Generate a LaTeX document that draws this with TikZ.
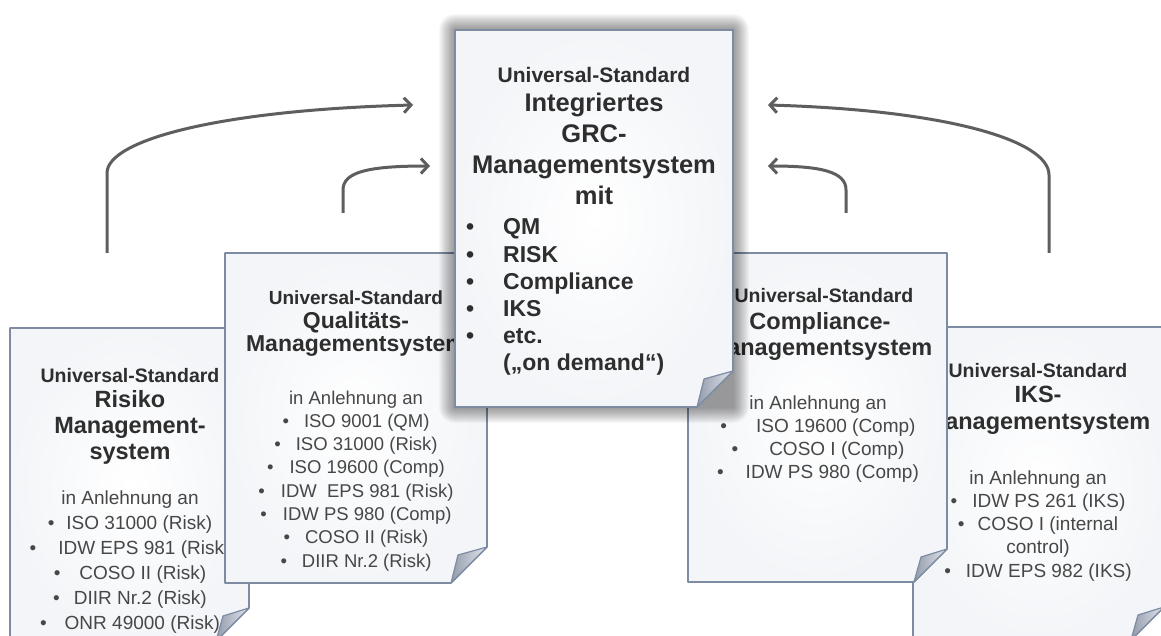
\documentclass[tikz,border=0pt]{standalone}
\usepackage{fontspec}
\setmainfont{Liberation Sans}
\usetikzlibrary{arrows.meta}

\definecolor{paperedge}{HTML}{7D8BA3}
\definecolor{paperflap}{HTML}{939CAC}
\definecolor{paperflaplight}{HTML}{E2E6EC}
\definecolor{papertint}{HTML}{F3F5F8}
\definecolor{arrowgray}{HTML}{5E5E5E}
\definecolor{inkdark}{HTML}{2E2E2E}
\definecolor{inkmid}{HTML}{474747}

% sheet of paper with a folded bottom-right corner: x1 y1 x2 y2 fold
\newcommand{\paperdoc}[5]{%
  \shade[inner color=white, outer color=papertint]
    (#1,#2) -- (#3,#2) -- (#3,#4-#5) -- (#3-#5,#4) -- (#1,#4) -- cycle;
  \draw[paperedge, line width=1.6pt, line join=round]
    (#1,#2) -- (#3,#2) -- (#3,#4-#5) -- (#3-#5,#4) -- (#1,#4) -- cycle;
  \draw[paperedge, line width=1.2pt, line join=round,
        left color=paperflap, right color=paperflaplight]
    (#3,#4-#5) -- (#3-#5+7,#4-#5+8) -- (#3-#5,#4) -- cycle;
}

% one node per text line: name, x, first baseline, line skip, style, lines
\newcommand{\textlines}[6]{%
  \foreach \entry [count=\idx from 0] in {#6} {
    \node[#5] (#1-\idx) at (#2, #3+\idx*#4) {\entry};
  }
}

\newcommand{\itemdot}[1]{•\hspace{#1pt}}
\newcommand{\grcdot}{\makebox[37pt][l]{•}}

\tikzset{
  x=1pt, y=-1pt,
  subtitle/.style={font=\bfseries\fontsize{#1}{#1}\selectfont, text=inkdark,
                   inner sep=0pt, anchor=base},
  subtitle/.default=19.5,
  heading/.style={font=\bfseries\fontsize{#1}{#1}\selectfont, text=inkdark,
                  inner sep=0pt, anchor=base},
  heading/.default=23.5,
  listtext/.style={font=\fontsize{#1}{#1}\selectfont, text=inkmid,
                   inner sep=0pt, anchor=base},
  listtext/.default=19,
  grcitem/.style={font=\bfseries\fontsize{23}{23}\selectfont, text=inkdark,
                  inner sep=0pt, anchor=base west},
  flow/.style={draw=arrowgray, line width=3pt,
               -{Straight Barb[length=7pt,width=15pt]}},
}

\begin{document}
\begin{tikzpicture}
\clip (0,0) rectangle (1161,636);
\fill[white] (0,0) rectangle (1161,636);

% Risiko-Managementsystem
\paperdoc{10}{328}{249}{641}{33}
\textlines{risk-sub}{130}{382}{0}{subtitle}{{Universal-Standard}}
\textlines{risk-head}{130}{407}{26}{heading}{{Risiko},{Management-},{system}}
\textlines{risk-list}{130}{504}{25}{listtext}{{in Anlehnung an},
  {\itemdot{12}ISO 31000 (Risk)},{\itemdot{22}IDW EPS 981 (Risk)},
  {\itemdot{19}COSO II (Risk)},{\itemdot{14}DIIR Nr.2 (Risk)},
  {\itemdot{18}ONR 49000 (Risk)}}

% IKS-Managementsystem
\paperdoc{913}{327}{1164}{640}{33}
\textlines{iks-sub}{1038}{377}{0}{subtitle}{{Universal-Standard}}
\textlines{iks-head}{1038}{402}{27}{heading}{{IKS-},{Managementsystem}}
\textlines{iks-list}{1038}{484}{23.25}{listtext}{{in Anlehnung an},
  {\itemdot{15}IDW PS 261 (IKS)},{\itemdot{13}COSO I (internal},
  {control)},{\itemdot{15}IDW EPS 982 (IKS)}}

% Qualitaets-Managementsystem
\paperdoc{225}{253}{487}{583}{36}
\textlines{qm-sub}{356}{304}{0}{subtitle=19}{{Universal-Standard}}
\textlines{qm-head}{356}{328}{23}{heading=23}{{Qualitäts-},{Managementsystem}}
\textlines{qm-list}{356}{404}{23.3}{listtext=18.5}{{in Anlehnung an},
  {\itemdot{15}ISO 9001 (QM)},{\itemdot{15}ISO 31000 (Risk)},
  {\itemdot{16}ISO 19600 (Comp)},{\itemdot{16}IDW\ \ EPS 981 (Risk)},
  {\itemdot{16}IDW PS 980 (Comp)},{\itemdot{15}COSO II (Risk)},
  {\itemdot{15}DIIR Nr.2 (Risk)}}

% Compliance-Managementsystem
\paperdoc{688}{253}{947}{582}{33}
\textlines{comp-sub}{824}{302}{0}{subtitle}{{Universal-Standard}}
\textlines{comp-head}{820}{329}{26}{heading}{{Compliance-},{Managementsystem}}
\textlines{comp-list}{818}{409}{23.3}{listtext}{{in Anlehnung an},
  {\itemdot{29}ISO 19600 (Comp)},{\itemdot{31}COSO I (Comp)},
  {\itemdot{22}IDW PS 980 (Comp)}}

% soft shadow under the integrated sheet
\foreach \k in {1,...,16} {
  \fill[black, opacity=0.026, rounded corners=\k pt]
    (455-\k,30-\k) rectangle (733+\k,407+\k);
}

% integrated GRC management system
\paperdoc{455}{30}{733}{407}{36}
\textlines{grc-sub}{594}{82.5}{0}{subtitle=21}{{Universal-Standard}}
\textlines{grc-head}{594}{112}{31}{heading=25.5}{{Integriertes},{GRC-},
  {Managementsystem},{mit}}
\textlines{grc-list}{466}{235}{27}{grcitem}{{\grcdot QM},{\grcdot RISK},
  {\grcdot Compliance},{\grcdot IKS},{\grcdot etc.},
  {\hspace{37pt}(„on demand“)}}

% feed arrows into the integrated system
\coordinate (lo-start) at (107,253);
\coordinate (lo-bend)  at (107,173);
\coordinate (lo-tip)   at (413,105);
\coordinate (li-start) at (343,213);
\coordinate (li-bend)  at (343,190);
\coordinate (li-tip)   at (430,166);
\coordinate (ro-start) at (1049,253);
\coordinate (ro-bend)  at (1049,175);
\coordinate (ro-tip)   at (768,105);
\coordinate (ri-start) at (846,213);
\coordinate (ri-bend)  at (846,190);
\coordinate (ri-tip)   at (768,166);

\draw[flow] (lo-start) -- (lo-bend) .. controls (107,140) and (220,110) .. (lo-tip);
\draw[flow] (li-start) -- (li-bend) .. controls (343,172) and (368,166) .. (li-tip);
\draw[flow] (ro-start) -- (ro-bend) .. controls (1049,140) and (945,110) .. (ro-tip);
\draw[flow] (ri-start) -- (ri-bend) .. controls (846,172) and (822,166) .. (ri-tip);
\end{tikzpicture}
\end{document}
